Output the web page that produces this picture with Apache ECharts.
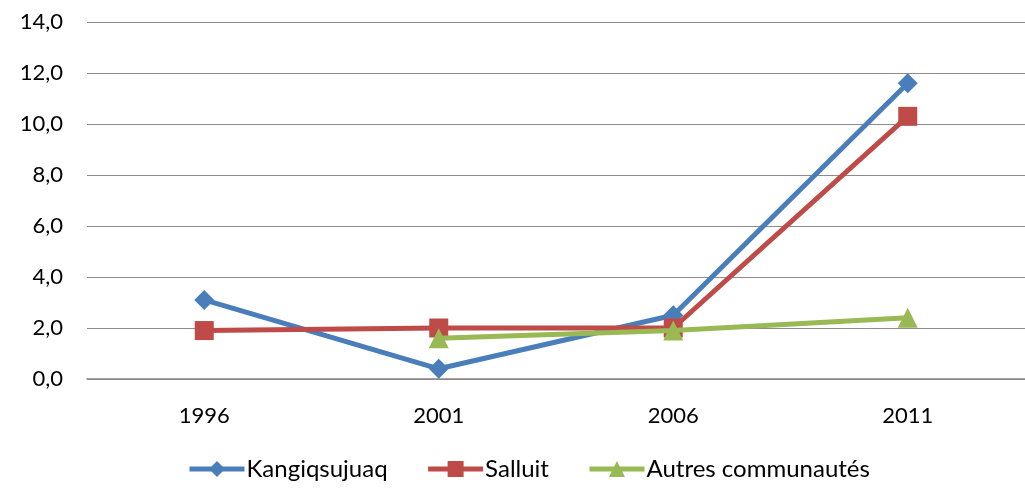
<!DOCTYPE html>
<html lang="fr">
<head>
    <meta charset="UTF-8">
    <title>Graphique</title>
    <style>
        html, body { margin: 0; padding: 0; background: #fff; }
    </style>
</head>
<body>
<div id="main" style="width: 1025px;height:491px;"></div>
<script src="https://cdn.jsdelivr.net/npm/echarts@6/dist/echarts.min.js"></script>
<script>
    var years = ['1996', '2001', '2006', '2011'];
    var kangiqsujuaq = [3.1, 0.4, 2.5, 11.6];
    var salluit = [1.9, 2.0, 2.0, 10.3];
    var autres = [null, 1.6, 1.9, 2.4];

    var chart = echarts.init(document.getElementById('main'));
    var font = 'Lato';

    option = {
        animation: false,
        grid: {
            left: 87,
            right: 0,
            top: 22,
            bottom: 112
        },
        legend: {
            bottom: 5,
            left: 182,
            itemWidth: 55,
            itemHeight: 20,
            itemGap: 38,
            lineStyle: { width: 5 },
            textStyle: { fontFamily: font, fontSize: 24, color: '#000', padding: [0, 0, 0, -3] },
            data: ['Kangiqsujuaq', 'Salluit', 'Autres communautés']
        },
        xAxis: {
            type: 'category',
            data: years,
            axisTick: { show: false },
            axisLine: { lineStyle: { color: '#868686', width: 1.5 } },
            axisLabel: { fontFamily: font, fontSize: 22, color: '#000', margin: 26 }
        },
        yAxis: {
            type: 'value',
            min: 0,
            max: 14,
            interval: 2,
            axisLabel: {
                fontFamily: font, fontSize: 22, color: '#000', margin: 24,
                formatter: function (v) { return v.toFixed(1).replace('.', ','); }
            },
            splitLine: { lineStyle: { color: '#8c8c8c', width: 1.2 } }
        },
        series: [
            {
                name: 'Kangiqsujuaq',
                type: 'line',
                data: kangiqsujuaq,
                symbol: 'diamond',
                symbolSize: 20,
                color: '#4a7ebb',
                lineStyle: { width: 5 },
                z: 3
            },
            {
                name: 'Salluit',
                type: 'line',
                data: salluit,
                symbol: 'rect',
                symbolSize: 19,
                color: '#be4b48',
                lineStyle: { width: 5 },
                z: 4
            },
            {
                name: 'Autres communautés',
                type: 'line',
                data: autres,
                symbol: 'triangle',
                symbolSize: 20,
                color: '#98b954',
                lineStyle: { width: 5 },
                z: 5
            }
        ]
    };

    chart.setOption(option);
</script>
</body>
</html>
